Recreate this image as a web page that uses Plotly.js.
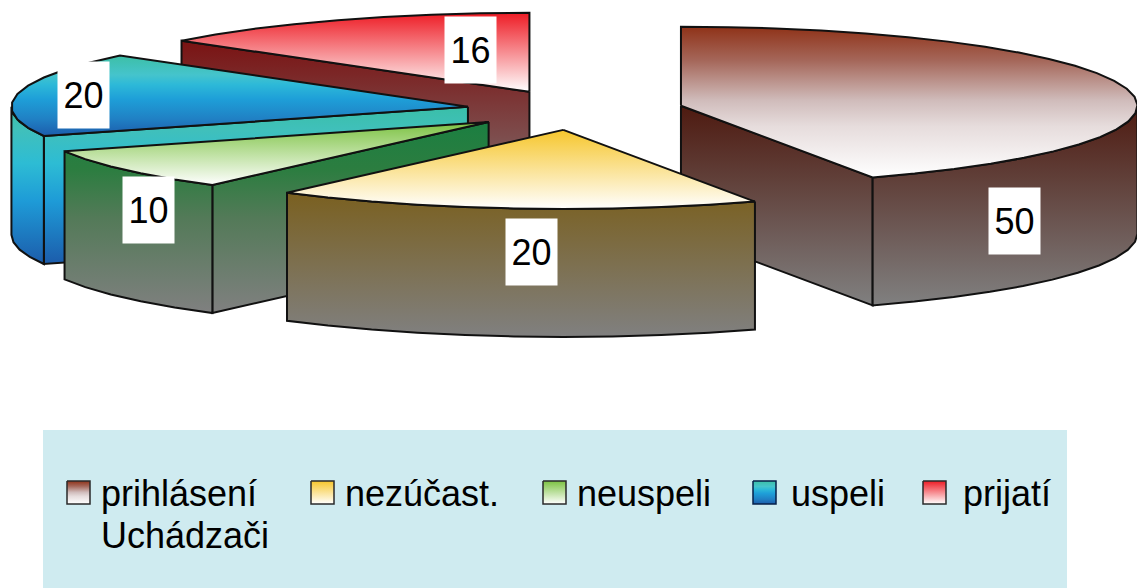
<!DOCTYPE html>
<html>
<head>
<meta charset="utf-8">
<script src="https://cdn.plot.ly/plotly-3.0.1.min.js"></script>
<style>html,body{margin:0;padding:0;background:#fff;overflow:hidden}#chart{width:1137px;height:588px}</style>
</head>
<body>
<div id="chart"></div>
<script>
// Exploded 3D pie of admission counts, with slices in value order clockwise from 12 o'clock.
const categories = ['prihlásení<br>Uchádzači', 'nezúčast.', 'neuspeli', 'uspeli', 'prijatí'];
const values = [50, 20, 10, 20, 16];

// Gradient colours of each slice's top face and of its sides.
const topColors = [
  [[0, '#8f3218'], [0.225, '#a5675a'], [0.49, '#d0bcbb'], [0.66, '#e6dcdc'], [1, '#ffffff']],
  [[0, '#f6c62c'], [1, '#ffffff']],
  [[0, '#7cc242'], [1, '#ffffff']],
  [[0, '#3dbfa6'], [0.24, '#45c4cc'], [0.36, '#2db9d8'], [0.54, '#1e9fd8'], [0.79, '#2080c4'], [1, '#1c5cab']],
  [[0, '#ee1c25'], [1, '#ffffff']]
];
const sideColors = [
  [[0, '#4e1a10'], [1, '#808080']],
  [[0, '#7a6020'], [1, '#808080']],
  [[0, '#1b7f41'], [0.25, '#2c7d40'], [0.5, '#537a58'], [1, '#808080']],
  [[0, '#3abfa8'], [0.15, '#40c0bb'], [0.36, '#2dbcd4'], [0.6, '#1e9bd7'], [1, '#1c5cab']],
  [[0, '#7a1212'], [1, '#808080']]
];

// Back-to-front painting order of the slices.
const paintOrder = [4, 3, 2, 0, 1];

// Pie projection in plot pixels.
const pie = {cx: 575, cy: 110, rx: 456.5, ry: 79, depth: 128, pullX: 108.5, pullY: 20, step: 6};
const outline = {color: '#111111', width: 2};

// Value-label boxes, one per slice.
const labelBox = {w: 51, h: 66, size: 36};
const labelX = [1014.5, 531.5, 148, 83.5, 470.5];
const labelY = [221, 252, 210, 95, 50];

// Legend panel and its entries.
const panel = {x0: 43, x1: 1067, y0: 430, y1: 588, color: '#cfebf0'};
const swatchX = [67, 311, 543, 753, 923];
const swatchY = 481;
const swatchSize = 23;
const legendTextX = [99.5, 344, 576, 789.5, 961.5];
const legendLineY = [493, 535.5];
const legendFont = 36;

const FONT = '"Liberation Sans", Arial, sans-serif';
const total = values.reduce((a, b) => a + b, 0);
const rad = d => d * Math.PI / 180;

function point(apex, deg, dy) {
  return [apex[0] + pie.rx * Math.sin(rad(deg)), apex[1] - pie.ry * Math.cos(rad(deg)) + dy];
}
function arc(apex, a, b, dy) {
  const pts = [];
  const n = Math.max(1, Math.round(Math.abs(b - a) / pie.step));
  for (let i = 0; i <= n; i++) pts.push(point(apex, a + (b - a) * i / n, dy));
  return pts;
}
function polyTrace(pts, colorscale, start, stop, line) {
  const closed = pts.concat([pts[0]]);
  return {
    type: 'scatter', mode: 'lines', x: closed.map(p => p[0]), y: closed.map(p => p[1]),
    fill: 'toself', fillcolor: colorscale[0][1],
    fillgradient: {type: 'vertical', colorscale, start, stop},
    line: {color: line.color, width: line.width, shape: 'linear'},
    hoverinfo: 'skip', showlegend: false
  };
}

// Work out each slice's angular span and exploded apex from the values.
let running = 0;
const slices = values.map(v => {
  const a = running / total * 360;
  running += v;
  const b = running / total * 360;
  const mid = rad((a + b) / 2);
  return {a, b, apex: [pie.cx + pie.pullX * Math.sin(mid), pie.cy - pie.pullY * Math.cos(mid)]};
});

const traces = [];
paintOrder.forEach(i => {
  const {a, b, apex} = slices[i];
  const polys = [];

  // A radial cut face shows only when its outward normal points at the viewer.
  const cuts = [];
  if (Math.sin(rad(a)) < -1e-6) cuts.push(a);
  if (Math.sin(rad(b)) > 1e-6) cuts.push(b);
  cuts.forEach(c => {
    const e = point(apex, c, 0);
    polys.push([apex, e, [e[0], e[1] + pie.depth], [apex[0], apex[1] + pie.depth]]);
  });

  // Outer rim: only the near half of the ellipse faces the viewer.
  const ra = Math.max(a, 90), rb = Math.min(b, 270);
  if (rb > ra) polys.push(arc(apex, ra, rb, 0).concat(arc(apex, rb, ra, pie.depth)));

  const sideY = polys.flat().map(p => p[1]);
  const sMin = Math.min(...sideY), sMax = Math.max(...sideY);
  polys.forEach(p => traces.push(polyTrace(p, sideColors[i], sMin, sMax, outline)));

  const face = [apex].concat(arc(apex, a, b, 0));
  const fy = face.map(p => p[1]);
  traces.push(polyTrace(face, topColors[i], Math.min(...fy), Math.max(...fy), outline));
});

// Legend swatches share the slices' top-face gradients.
categories.forEach((c, i) => {
  const x = swatchX[i], y = swatchY, s = swatchSize;
  traces.push(polyTrace([[x, y], [x + s, y], [x + s, y + s], [x, y + s]], topColors[i], y, y + s,
    {color: i === 3 ? '#06204a' : '#2a2a2a', width: 1.5}));
});

const annotations = [];
values.forEach((v, i) => annotations.push({
  x: labelX[i], y: labelY[i], xref: 'x', yref: 'y', text: String(v), showarrow: false,
  width: labelBox.w, height: labelBox.h, bgcolor: '#ffffff', borderpad: 0,
  align: 'center', valign: 'middle', font: {family: FONT, size: labelBox.size, color: '#000'}
}));
categories.forEach((c, i) => c.split('<br>').forEach((line, k) => annotations.push({
  x: legendTextX[i], y: legendLineY[k], xref: 'x', yref: 'y', xanchor: 'left', yanchor: 'middle',
  text: line, showarrow: false, borderpad: 0, font: {family: FONT, size: legendFont, color: '#000'}
})));

const layout = {
  width: 1137, height: 588,
  margin: {l: 0, r: 0, t: 0, b: 0},
  paper_bgcolor: '#ffffff', plot_bgcolor: '#ffffff',
  showlegend: false,
  xaxis: {range: [0, 1137], visible: false, fixedrange: true},
  yaxis: {range: [588, 0], visible: false, fixedrange: true},
  shapes: [{type: 'rect', xref: 'x', yref: 'y', x0: panel.x0, x1: panel.x1, y0: panel.y0, y1: panel.y1,
    fillcolor: panel.color, line: {width: 0}, layer: 'below'}],
  annotations
};

Plotly.newPlot('chart', traces, layout, {displayModeBar: false, staticPlot: true});
</script>
</body>
</html>
